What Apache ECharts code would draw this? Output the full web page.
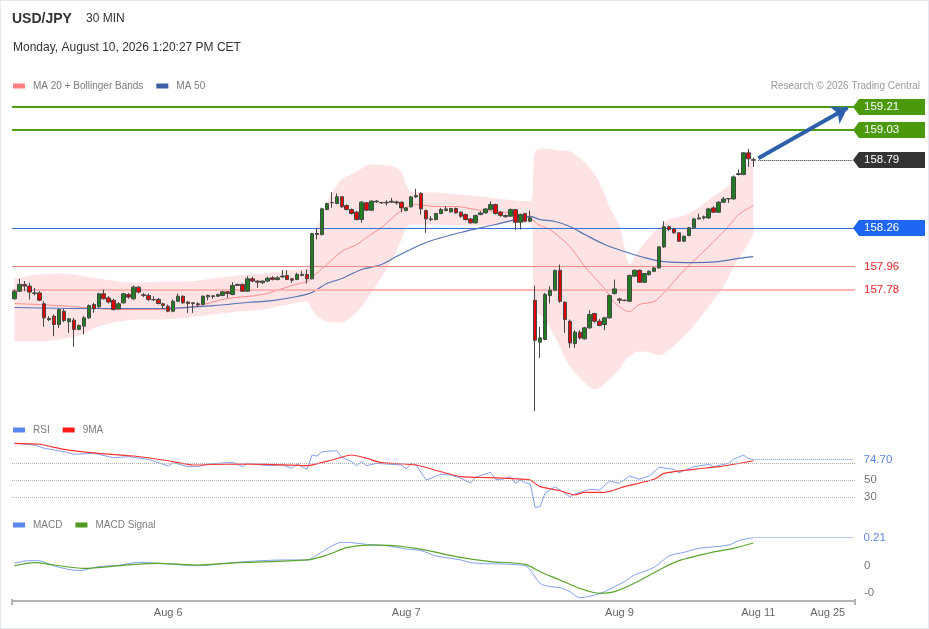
<!DOCTYPE html>
<html lang="en">
<head>
<meta charset="UTF-8">
<title>USD/JPY 30 MIN</title>
<style>
  html, body { margin: 0; padding: 0; background: #fff; }
  #chart { width: 929px; height: 629px; }
  #frame { position: absolute; left: 0; top: 0; width: 929px; height: 629px; box-sizing: border-box; border: 1px solid #e3e9ee; pointer-events: none; }
</style>
</head>
<body>
<div id="chart"></div>
<div id="frame"></div>
<script src="https://cdn.jsdelivr.net/npm/echarts@6/dist/echarts.min.js"></script>
<script>
// 30 min candles
const opens = [
  157.708,157.767,157.820,157.807,157.754,157.754,157.669,157.554,157.572,157.507,
  157.611,157.528,157.541,157.468,157.494,157.559,157.663,157.645,157.747,157.715,
  157.697,157.629,157.676,157.741,157.708,157.799,157.739,157.734,157.702,157.702,
  157.669,157.650,157.611,157.689,157.728,157.682,157.676,157.663,157.663,157.723,
  157.726,157.728,157.734,157.762,157.741,157.812,157.820,157.767,157.864,157.846,
  157.833,157.846,157.872,157.859,157.879,157.890,157.864,157.859,157.890,157.898,
  157.864,158.210,158.210,158.405,158.458,158.452,158.505,158.437,158.405,158.385,
  158.327,158.458,158.400,158.465,158.458,158.457,158.462,158.465,158.462,158.397,
  158.426,158.504,158.530,158.397,158.332,158.327,158.374,158.397,158.387,158.413,
  158.384,158.366,158.332,158.301,158.366,158.379,158.405,158.444,158.384,158.358,
  158.353,158.405,158.306,158.374,158.314,157.697,157.369,157.390,157.733,157.775,
  157.931,157.681,157.533,157.358,157.447,157.395,157.481,157.593,157.533,157.507,
  157.559,157.749,157.707,157.697,157.689,157.884,157.931,157.837,157.897,157.923,
  157.949,158.113,158.270,158.254,158.223,158.158,158.202,158.262,158.332,158.340,
  158.340,158.418,158.384,158.462,158.488,158.488,158.679,158.679,158.848,158.795
];
const closes = [
  157.767,157.820,157.807,157.760,157.749,157.697,157.559,157.546,157.507,157.624,
  157.538,157.551,157.468,157.499,157.559,157.655,157.629,157.747,157.708,157.682,
  157.624,157.669,157.747,157.721,157.799,157.760,157.734,157.702,157.700,157.671,
  157.656,157.611,157.689,157.728,157.676,157.671,157.671,157.669,157.728,157.734,
  157.731,157.741,157.762,157.749,157.812,157.820,157.767,157.864,157.846,157.838,
  157.846,157.869,157.859,157.872,157.885,157.859,157.853,157.898,157.898,157.864,
  158.218,158.218,158.411,158.452,158.460,158.505,158.426,158.405,158.374,158.327,
  158.463,158.400,158.471,158.471,158.460,158.462,158.470,158.457,158.418,158.418,
  158.504,158.515,158.410,158.332,158.327,158.374,158.405,158.410,158.413,158.379,
  158.353,158.327,158.301,158.358,158.379,158.410,158.444,158.374,158.358,158.350,
  158.405,158.306,158.366,158.314,158.340,157.384,157.403,157.741,157.775,157.929,
  157.689,157.546,157.363,157.447,157.402,157.481,157.585,157.533,157.499,157.559,
  157.733,157.785,157.697,157.694,157.890,157.931,157.837,157.905,157.923,157.949,
  158.113,158.270,158.249,158.223,158.158,158.197,158.262,158.332,158.340,158.348,
  158.410,158.384,158.462,158.488,158.491,158.660,158.686,158.848,158.801,158.790
];
const lows = [
  157.702,157.760,157.767,157.702,157.734,157.689,157.489,157.533,157.416,157.481,
  157.525,157.442,157.333,157.463,157.429,157.551,157.598,157.637,157.702,157.671,
  157.616,157.624,157.671,157.708,157.697,157.749,157.721,157.689,157.689,157.663,
  157.629,157.603,157.603,157.682,157.669,157.598,157.598,157.645,157.658,157.697,
  157.708,157.723,157.728,157.715,157.736,157.807,157.762,157.762,157.838,157.793,
  157.825,157.838,157.851,157.851,157.872,157.854,157.833,157.854,157.885,157.827,
  157.859,158.171,158.202,158.400,158.419,158.447,158.419,158.398,158.366,158.320,
  158.301,158.393,158.395,158.458,158.450,158.436,158.457,158.444,158.384,158.392,
  158.421,158.496,158.366,158.223,158.314,158.322,158.369,158.392,158.382,158.374,
  158.340,158.319,158.296,158.296,158.361,158.374,158.400,158.366,158.348,158.340,
  158.348,158.244,158.249,158.306,158.306,156.830,157.246,157.384,157.671,157.767,
  157.676,157.442,157.324,157.324,157.389,157.389,157.473,157.520,157.494,157.462,
  157.551,157.741,157.671,157.689,157.681,157.879,157.832,157.832,157.889,157.916,
  157.942,158.106,158.236,158.215,158.153,158.150,158.197,158.254,158.327,158.327,
  158.332,158.379,158.379,158.457,158.457,158.483,158.671,158.673,158.738,158.738
];
const highs = [
  157.780,157.864,157.846,157.833,157.793,157.767,157.689,157.572,157.585,157.629,
  157.629,157.559,157.559,157.507,157.572,157.663,157.676,157.754,157.780,157.728,
  157.708,157.682,157.754,157.754,157.812,157.807,157.754,157.749,157.728,157.715,
  157.676,157.663,157.702,157.749,157.734,157.689,157.682,157.682,157.734,157.741,
  157.736,157.749,157.767,157.767,157.838,157.827,157.827,157.885,157.880,157.853,
  157.851,157.880,157.885,157.885,157.932,157.932,157.872,157.911,157.924,157.937,
  158.223,158.262,158.419,158.458,158.541,158.531,158.510,158.445,158.413,158.393,
  158.471,158.465,158.476,158.478,158.465,158.478,158.496,158.475,158.468,158.423,
  158.509,158.567,158.541,158.405,158.353,158.379,158.418,158.431,158.418,158.421,
  158.392,158.374,158.340,158.366,158.392,158.418,158.470,158.452,158.392,158.366,
  158.413,158.410,158.374,158.379,158.397,157.811,157.488,157.754,157.806,157.936,
  157.975,157.689,157.546,157.462,157.462,157.488,157.619,157.598,157.551,157.567,
  157.741,157.858,157.715,157.702,157.897,157.936,157.936,157.910,157.929,157.957,
  158.119,158.314,158.280,158.262,158.228,158.202,158.270,158.340,158.374,158.358,
  158.418,158.431,158.470,158.504,158.496,158.671,158.718,158.853,158.879,158.809
];

// bollinger band (MA 20 +/- 2sd), sampled at candle index
const bandIdx = [0,5,9,13,17,21,25,30,35,40,45,50,55,59,60,61,62,63,64,66,69,71,72,75,77,78,79,80,85,90,94,99,104,105,107,110,112,115,117,118,120,122,123,124,126,128,130,132,135,138,140,143,145,147,149];
const bandUpper = [157.866,157.898,157.905,157.890,157.866,157.843,157.835,157.843,157.843,157.866,157.890,157.905,157.929,157.952,158.093,158.265,158.366,158.460,158.538,158.640,158.702,158.749,158.757,158.749,158.733,158.702,158.601,158.546,158.538,158.523,158.507,158.483,158.468,158.858,158.882,158.866,158.858,158.773,158.679,158.616,158.429,158.273,158.116,157.976,158.093,158.187,158.265,158.327,158.358,158.421,158.483,158.562,158.624,158.718,158.819];
const bandLower = [157.374,157.374,157.390,157.421,157.491,157.530,157.546,157.546,157.562,157.585,157.608,157.624,157.663,157.687,157.624,157.577,157.546,157.530,157.523,157.523,157.601,157.702,157.757,157.937,158.077,158.171,158.265,158.288,158.288,158.280,158.280,158.296,158.304,157.624,157.546,157.335,157.179,157.054,156.999,157.015,157.077,157.155,157.218,157.257,157.296,157.288,157.265,157.312,157.413,157.546,157.648,157.804,157.960,158.077,158.210];

const ma20Idx = [0,9,21,30,37,43,50,56,59,60,63,66,69,71,74,77,79,81,85,89,93,97,101,104,106,108,112,115,119,121,124,126,129,131,135,140,144,146,149];
const ma20 = [157.671,157.655,157.624,157.624,157.655,157.710,157.741,157.812,157.843,157.874,157.976,158.077,158.132,158.187,158.265,158.366,158.421,158.444,158.429,158.429,158.405,158.390,158.374,158.335,158.280,158.249,158.116,157.960,157.788,157.679,157.608,157.663,157.687,157.757,157.929,158.116,158.273,158.366,158.437];

const ma50Idx = [0,15,30,40,47,52,57,60,63,66,70,74,77,83,90,97,101,104,106,109,112,115,119,123,127,131,137,142,146,149];
const ma50 = [157.640,157.632,157.632,157.655,157.679,157.694,157.726,157.757,157.827,157.866,157.937,157.976,158.038,158.148,158.226,158.288,158.327,158.351,158.327,158.312,158.273,158.210,158.132,158.077,158.030,157.999,157.991,157.999,158.023,158.038];

const rsiIdx = [0,4,6,8,10,12,16,20,23,27,31,32,35,37,39,44,46,47,51,54,56,57,59,60,61,62,65,66,68,69,70,71,73,78,79,80,81,83,84,86,88,90,92,93,96,97,98,100,101,102,103,104,105,106,107,109,110,112,113,116,118,120,122,124,126,128,130,133,134,137,140,141,144,145,147,148,149];
const rsi = [94.0,92.0,88.1,86.1,84.0,81.0,82.1,76.9,78.1,75.0,67.0,71.0,66.2,66.2,69.4,71.4,66.2,70.2,67.4,68.2,64.3,69.4,63.1,80.1,78.9,84.0,85.2,77.4,72.1,67.4,72.1,67.4,70.2,68.2,63.5,70.2,68.2,50.4,52.4,57.1,56.3,52.4,46.8,53.6,59.5,51.2,50.4,54.3,46.4,50.4,47.1,46.0,17.9,18.5,34.5,42.4,38.5,30.5,33.7,39.3,38.5,49.2,46.4,55.1,51.2,55.1,65.5,63.1,59.0,66.2,69.0,66.2,70.2,75.0,80.1,76.2,74.7];
const rsiMaIdx = [0,5,10,17,24,31,36,44,51,59,64,68,71,74,81,86,90,96,103,104,106,110,113,115,119,123,129,131,137,142,149];
const rsiMa = [94.0,92.9,86.9,82.1,78.9,73.3,68.2,69.4,69.0,67.4,74.2,80.1,76.2,71.0,68.2,60.2,54.3,53.1,51.2,50.4,42.4,37.6,32.5,35.7,35.7,42.4,51.2,58.3,63.1,66.2,73.3];

const macdIdx = [0,3,5,8,13,17,21,25,31,37,44,50,55,59,61,64,66,68,71,75,79,82,85,90,92,95,98,103,104,106,108,110,112,114,117,119,121,123,125,129,132,135,138,144,146,149];
const macd = [0.018,0.038,0.037,-0.002,-0.037,-0.007,0.003,0.025,0.013,0.0,0.023,0.038,0.043,0.043,0.080,0.148,0.175,0.173,0.160,0.150,0.125,0.113,0.073,0.043,0.023,0.015,0.013,0.0,-0.032,-0.132,-0.157,-0.165,-0.195,-0.240,-0.220,-0.195,-0.157,-0.120,-0.070,-0.012,0.073,0.100,0.130,0.155,0.188,0.210];
const signalIdx = [0,4,8,14,22,29,37,45,59,63,67,71,74,81,90,96,103,106,110,114,118,121,125,130,134,140,145,149];
const signal = [-0.002,0.023,0.005,-0.020,0.003,0.018,0.005,0.023,0.043,0.080,0.135,0.155,0.155,0.130,0.062,0.030,0.010,-0.045,-0.107,-0.170,-0.207,-0.195,-0.132,-0.032,0.038,0.095,0.130,0.170];

// key levels
const resistances = [159.21, 159.03];
const lastPrice = 158.79;
const pivot = 158.26;
const supports = [157.96, 157.78];
const rsiLevels = [70, 50, 30];
const rsiLast = 74.70;
const macdLast = 0.21;
const macdTicks = [0, -0.2];
const targetPrice = 159.20;

// x axis: 150 candles + 20 empty slots to the right
const futureSlots = 20;
const categories = opens.map((_, i) => String(i)).concat(Array.from({ length: futureSlots }, (_, i) => String(opens.length + i)));
const dateTickIdx = [31, 79, 122, 150, 164];
const dateTickText = ['Aug 6', 'Aug 7', 'Aug 9', 'Aug 11', 'Aug 25'];

const FONT = '"Liberation Sans", Arial, sans-serif';
const lastIdx = opens.length - 1;
const endIdx = categories.length - 1;

const pairs = (idx, vals) => idx.map((k, j) => [k, vals[j]]);

function xAxisFor(gridIndex, visible) {
  return {
    type: 'category',
    gridIndex: gridIndex,
    data: categories,
    boundaryGap: true,
    show: visible,
    axisLine: { show: visible, onZero: false, lineStyle: { color: '#b4b4b4', width: 2 } },
    axisTick: { show: false },
    splitLine: { show: false },
    axisLabel: {
      show: visible,
      interval: (i) => dateTickIdx.indexOf(i) >= 0,
      formatter: (v) => dateTickText[dateTickIdx.indexOf(Number(v))] || '',
      color: '#666',
      fontSize: 11,
      fontFamily: FONT,
      margin: 7
    }
  };
}

const legendBase = {
  icon: 'rect',
  itemWidth: 12,
  itemHeight: 5,
  itemGap: 13,
  padding: 0,
  left: 13,
  selectedMode: false,
  textStyle: { color: '#7b7b7b', fontSize: 10, fontFamily: FONT, padding: [0, 0, 0, 3] }
};

// right side text labels
const sideLabel = { show: true, position: 'end', distance: 9, fontSize: 11.5, fontFamily: FONT };

const chart = echarts.init(document.getElementById('chart'));

chart.setOption({
  animation: false,
  backgroundColor: '#fff',
  textStyle: { fontFamily: FONT },
  title: [
    { text: 'USD/JPY', left: 12, top: 12, padding: 0, textStyle: { fontSize: 14, fontWeight: 'bold', color: '#333', fontFamily: FONT } },
    { text: '30 MIN', left: 86, top: 13, padding: 0, textStyle: { fontSize: 12, fontWeight: 'normal', color: '#333', fontFamily: FONT } },
    { text: 'Monday, August 10, 2026 1:20:27 PM CET', left: 13, top: 42, padding: 0, textStyle: { fontSize: 12, fontWeight: 'normal', color: '#333', fontFamily: FONT } },
    { text: 'Research \u00a9 2026 Trading Central', right: 9, top: 81, padding: 0, textStyle: { fontSize: 10, fontWeight: 'normal', color: '#9b9b9b', fontFamily: FONT } }
  ],
  legend: [
    Object.assign({}, legendBase, { top: 81, data: [
      { name: 'MA 20 + Bollinger Bands', itemStyle: { color: '#ff8080' } },
      { name: 'MA 50', itemStyle: { color: '#3c5fa3' } }
    ] }),
    Object.assign({}, legendBase, { top: 425, data: [
      { name: 'RSI', itemStyle: { color: '#5b88ee' } },
      { name: '9MA', itemStyle: { color: '#ff1a1a' } }
    ] }),
    Object.assign({}, legendBase, { top: 520, data: [
      { name: 'MACD', itemStyle: { color: '#5b88ee' } },
      { name: 'MACD Signal', itemStyle: { color: '#4d9a1f' } }
    ] })
  ],
  grid: [
    { left: 12, right: 74, top: 95, height: 322.56 },
    { left: 12, right: 74, top: 438.3, height: 84 },
    { left: 12, right: 74, top: 529.7, height: 70.65 }
  ],
  xAxis: [xAxisFor(0, false), xAxisFor(1, false), xAxisFor(2, true)],
  yAxis: [
    { gridIndex: 0, min: 156.78, max: 159.30, show: false },
    { gridIndex: 1, min: 0, max: 100, show: false },
    { gridIndex: 2, min: -0.26, max: 0.27, show: false }
  ],
  series: [
    {
      name: 'bbLower', type: 'line', stack: 'bb', silent: true, z: 1,
      data: pairs(bandIdx, bandLower),
      symbol: 'none', smooth: 0.3, lineStyle: { opacity: 0 }
    },
    {
      name: 'bbWidth', type: 'line', stack: 'bb', silent: true, z: 1,
      data: bandIdx.map((k, j) => [k, +(bandUpper[j] - bandLower[j]).toFixed(3)]),
      symbol: 'none', smooth: 0.3, lineStyle: { opacity: 0 },
      areaStyle: { color: '#fde3e3', opacity: 1 }
    },
    {
      name: 'MA 20 + Bollinger Bands', type: 'line', z: 2, silent: true,
      data: pairs(ma20Idx, ma20),
      symbol: 'none', smooth: 0.3,
      lineStyle: { color: '#ff8c8c', width: 1 }, itemStyle: { color: '#ff8080' }
    },
    {
      name: 'MA 50', type: 'line', z: 2, silent: true,
      data: pairs(ma50Idx, ma50),
      symbol: 'none', smooth: 0.3,
      lineStyle: { color: '#5674b6', width: 1.2 }, itemStyle: { color: '#3c5fa3' }
    },
    {
      name: 'USD/JPY', type: 'candlestick', z: 5, silent: true,
      data: opens.map((o, i) => [o, closes[i], lows[i], highs[i]]),
      barWidth: 4,
      itemStyle: { color: '#1f7d1f', color0: '#e50000', borderColor: '#474747', borderColor0: '#474747', borderWidth: 1 },
      markLine: {
        silent: true, symbol: 'none', animation: false,
        data: [
          { yAxis: resistances[0], lineStyle: { color: '#4f9e12', width: 2, type: 'solid' }, label: { show: false } },
          { yAxis: resistances[1], lineStyle: { color: '#4f9e12', width: 2, type: 'solid' }, label: { show: false } },
          { yAxis: pivot, lineStyle: { color: '#3a6fd8', width: 1, type: 'solid' }, label: { show: false } },
          { yAxis: supports[0], lineStyle: { color: '#ef8585', width: 1, type: 'solid' },
            label: Object.assign({}, sideLabel, { formatter: supports[0].toFixed(2), color: '#e8262b' }) },
          { yAxis: supports[1], lineStyle: { color: '#ffb4b4', width: 2, type: 'solid' },
            label: Object.assign({}, sideLabel, { formatter: supports[1].toFixed(2), color: '#e8262b' }) },
          [
            { coord: [lastIdx + 1, lastPrice], lineStyle: { color: '#222', width: 1, type: 'dotted' }, label: { show: false } },
            { coord: [endIdx, lastPrice] }
          ],
          [
            { coord: [lastIdx + 1, lastPrice + 0.015], symbol: 'none', lineStyle: { color: '#2d5fab', width: 4, type: 'solid' }, label: { show: false } },
            { coord: [endIdx - 1, targetPrice], symbol: 'arrow', symbolSize: 15 }
          ]
        ]
      }
    },
    {
      name: 'RSI', type: 'line', xAxisIndex: 1, yAxisIndex: 1, z: 3, silent: true,
      data: pairs(rsiIdx, rsi),
      symbol: 'none',
      lineStyle: { color: '#82a2ee', width: 1 }, itemStyle: { color: '#5b88ee' },
      markLine: {
        silent: true, symbol: 'none', animation: false,
        data: [
          { yAxis: rsiLevels[0], lineStyle: { color: '#b3b3b3', width: 1, type: 'dotted' }, label: { show: false } },
          { yAxis: rsiLevels[1], lineStyle: { color: '#b3b3b3', width: 1, type: 'dotted' },
            label: Object.assign({}, sideLabel, { formatter: String(rsiLevels[1]), color: '#777' }) },
          { yAxis: rsiLevels[2], lineStyle: { color: '#b3b3b3', width: 1, type: 'dotted' },
            label: Object.assign({}, sideLabel, { formatter: String(rsiLevels[2]), color: '#777' }) },
          [
            { coord: [lastIdx, rsiLast], lineStyle: { color: '#6d90ea', width: 1, type: 'dotted' },
              label: Object.assign({}, sideLabel, { distance: 11, formatter: rsiLast.toFixed(2), color: '#5f86e6' }) },
            { coord: [endIdx, rsiLast] }
          ]
        ]
      }
    },
    {
      name: '9MA', type: 'line', xAxisIndex: 1, yAxisIndex: 1, z: 3, silent: true,
      data: pairs(rsiMaIdx, rsiMa),
      symbol: 'none', smooth: 0.2,
      lineStyle: { color: '#ff3333', width: 1.2 }, itemStyle: { color: '#ff1a1a' }
    },
    {
      name: 'MACD', type: 'line', xAxisIndex: 2, yAxisIndex: 2, z: 3, silent: true,
      data: pairs(macdIdx, macd),
      symbol: 'none', smooth: 0.3,
      lineStyle: { color: '#82a2ee', width: 1 }, itemStyle: { color: '#5b88ee' },
      markLine: {
        silent: true, symbol: 'none', animation: false,
        data: [
          [
            { coord: [lastIdx, macdLast], lineStyle: { color: '#6d90ea', width: 1, type: 'dotted' },
              label: Object.assign({}, sideLabel, { distance: 11, formatter: macdLast.toFixed(2), color: '#5f86e6' }) },
            { coord: [endIdx, macdLast] }
          ],
          { yAxis: macdTicks[0], lineStyle: { color: 'rgba(0,0,0,0)', width: 1 },
            label: Object.assign({}, sideLabel, { formatter: macdTicks[0].toFixed(0), color: '#777' }) },
          { yAxis: macdTicks[1], lineStyle: { color: 'rgba(0,0,0,0)', width: 1 },
            label: Object.assign({}, sideLabel, { formatter: macdTicks[1].toFixed(0), color: '#777' }) }
        ]
      }
    },
    {
      name: 'MACD Signal', type: 'line', xAxisIndex: 2, yAxisIndex: 2, z: 3, silent: true,
      data: pairs(signalIdx, signal),
      symbol: 'none', smooth: 0.3,
      lineStyle: { color: '#5aa52a', width: 1.2 }, itemStyle: { color: '#4d9a1f' }
    }
  ]
});

// price tags on the right, placed through the price axis
const tagLevels = [
  { v: resistances[0], fill: '#4c9a0c' },
  { v: resistances[1], fill: '#4c9a0c' },
  { v: lastPrice, fill: '#333333' },
  { v: pivot, fill: '#1f66f2' }
];
const graphics = [];
tagLevels.forEach(t => {
  const y = Math.round(chart.convertToPixel({ yAxisIndex: 0 }, t.v));
  graphics.push({
    type: 'polygon', z: 100, silent: true,
    shape: { points: [[853, y], [859, y - 8], [925, y - 8], [925, y + 8], [859, y + 8]] },
    style: { fill: t.fill }
  });
  graphics.push({
    type: 'text', z: 101, silent: true, x: 864, y: y,
    style: { text: t.v.toFixed(2), fill: '#fff', font: '11.5px ' + FONT, verticalAlign: 'middle', textVerticalAlign: 'middle' }
  });
});
// small end ticks of the time axis
const axisY = Math.round(chart.convertToPixel({ yAxisIndex: 2 }, -0.26));
[12, 855].forEach(x => {
  graphics.push({
    type: 'line', silent: true, z: 50,
    shape: { x1: x, y1: axisY - 1, x2: x, y2: axisY + 5 },
    style: { stroke: '#b4b4b4', lineWidth: 2 }
  });
});
chart.setOption({ graphic: graphics });
</script>
</body>
</html>
